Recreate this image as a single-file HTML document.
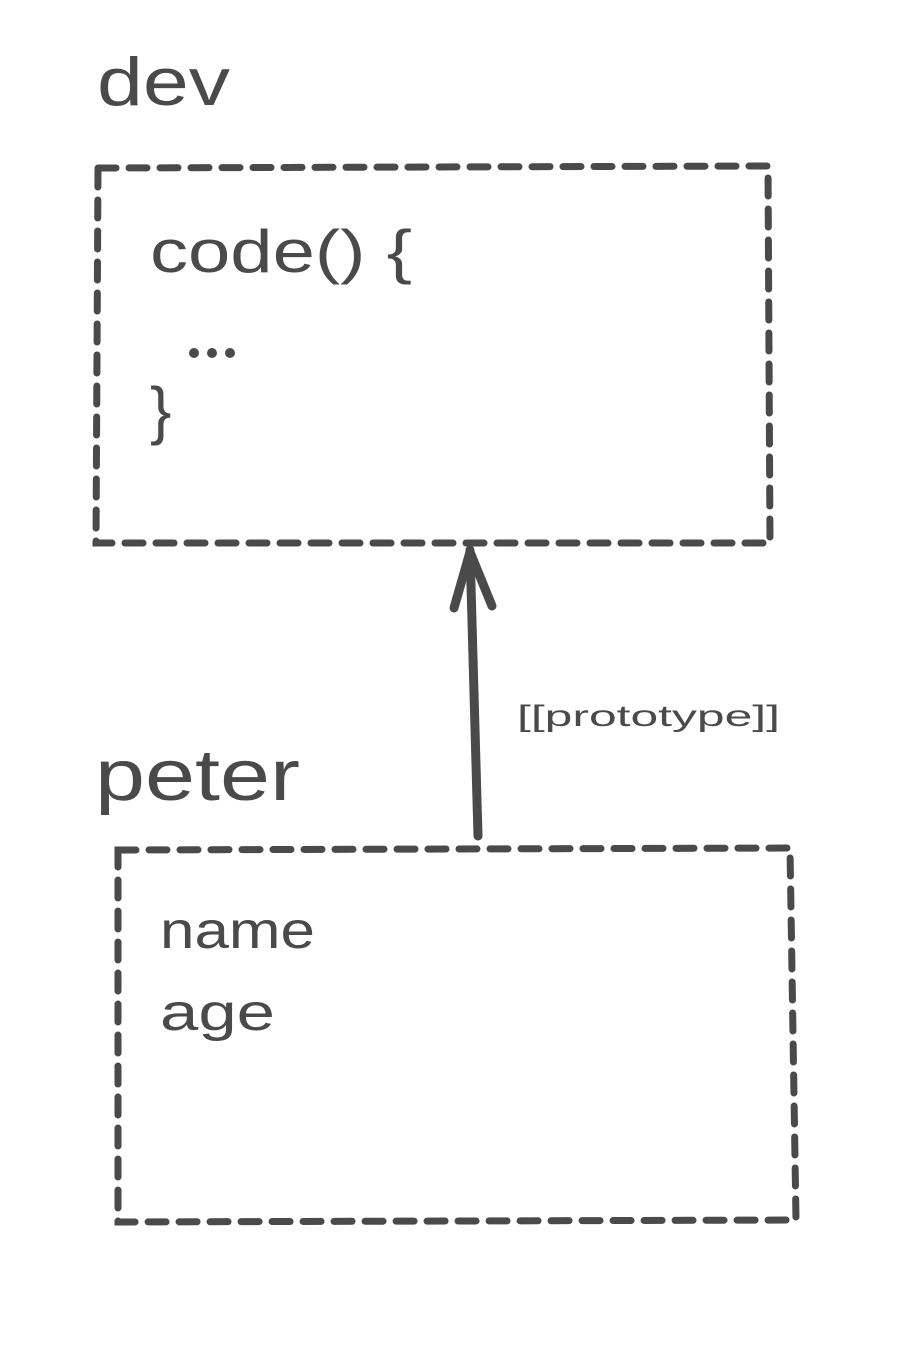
<!DOCTYPE html>
<html><head><meta charset="utf-8"><style>
html,body{margin:0;padding:0;background:#fff;}
svg{display:block;}
text{font-family:"Liberation Sans",sans-serif;fill:#4a4a4a;}
</style></head><body>
<svg width="906" height="1350" viewBox="0 0 906 1350" xmlns="http://www.w3.org/2000/svg">
<g fill="none" stroke="#4a4a4a" stroke-width="7" stroke-linecap="round" stroke-dasharray="18 13">
<path d="M98 168 L768 166 L770 543 L96 543 Z"/>
<path d="M118 850 L790 848 L796 1220 L118 1222 Z"/>
</g>
<g fill="none" stroke="#4a4a4a" stroke-width="9" stroke-linecap="round" stroke-linejoin="round">
<path d="M478 836 L470 550"/>
<path d="M454 608 L470 552 L492 606"/>
</g>
<g fill="#4a4a4a"><circle cx="194" cy="353" r="5"/><circle cx="212" cy="353" r="5"/><circle cx="230" cy="353" r="5"/></g>
<text x="97" y="105" font-size="68" textLength="133" lengthAdjust="spacingAndGlyphs">dev</text>
<text x="150" y="272" font-size="60" textLength="262" lengthAdjust="spacingAndGlyphs">code() {</text>
<text x="150" y="432" font-size="64">}</text>
<text x="95" y="800" font-size="72" textLength="205" lengthAdjust="spacingAndGlyphs">peter</text>
<text x="160" y="948" font-size="52" textLength="155" lengthAdjust="spacingAndGlyphs">name</text>
<text x="160" y="1030" font-size="52" textLength="115" lengthAdjust="spacingAndGlyphs">age</text>
<text x="517" y="726" font-size="30" textLength="263" lengthAdjust="spacingAndGlyphs">[[prototype]]</text>
</svg>
</body></html>
